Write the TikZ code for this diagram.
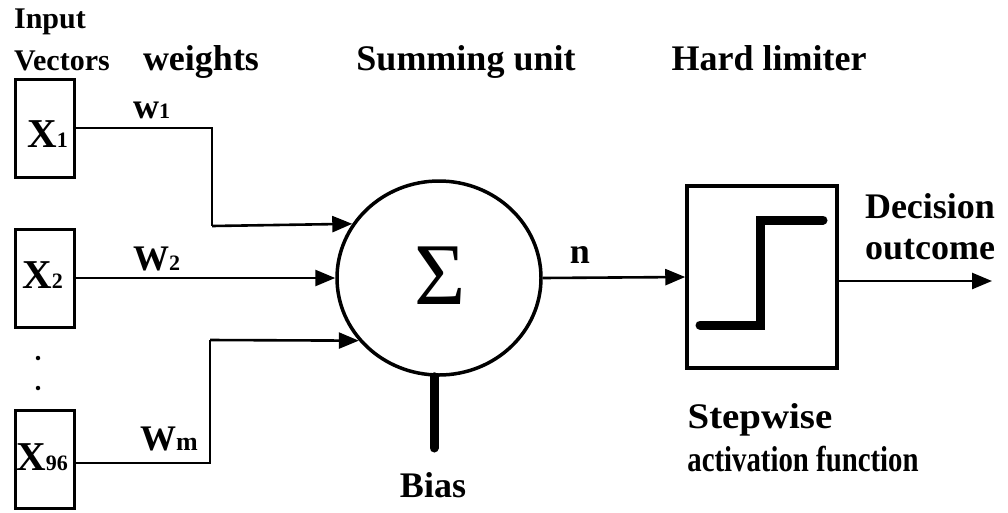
\documentclass[tikz,border=0pt]{standalone}
\usepackage{fontspec}
\setmainfont{Liberation Serif}
\usetikzlibrary{arrows.meta,shapes.geometric}
\newcommand\fsz[1]{\fontsize{#1}{#1}\selectfont}
\newcommand\sub[1]{{\fsz{22}#1}}
\begin{document}
\begin{tikzpicture}[x=1pt,y=-1pt,
  lbl/.style={font=\bfseries\fsz{36}, inner sep=0pt, anchor=base},
  small/.style={font=\bfseries\fsz{30}, inner sep=0pt, anchor=base},
  xlbl/.style={font=\bfseries\fsz{41}, inner sep=0pt, anchor=base west},
  inbox/.style={draw, line width=3pt, minimum width=59pt, minimum height=98pt, inner sep=0pt},
  wire/.style={line width=2.6pt},
  arr/.style={wire, -{Triangle[length=20pt,width=16pt]}},
  thick bar/.style={line width=9pt, line cap=round},
  dotmark/.style={circle, fill, inner sep=0pt, minimum size=4.5pt}
]
\useasboundingbox (0,0) rectangle (1008,512);

% headings
\node[small] (hin)  at (50,28)  {Input};
\node[small] (hvec) at (62,70)  {Vectors};
\node[lbl]   (hw)   at (201,70) {weights};
\node[lbl]   (hsum) at (466,70) {Summing unit};
\node[lbl]   (hlim) at (769,70) {Hard limiter};

% input boxes
\node[inbox] (x1)  at (44.5,128) {};
\node[inbox] (x2)  at (44.5,278) {};
\node[inbox] (xm)  at (44.5,459) {};
\node[xlbl] (tx1) at (27,147) {X\sub{1}};
\node[xlbl] (tx2) at (22,288) {X\sub{2}};
\node[xlbl] (txm) at (16,470) {X\sub{96}};
\node[dotmark] (d1) at (38,358) {};
\node[dotmark] (d2) at (38,388) {};

% summing unit
\node[ellipse, draw, line width=3.5pt, minimum width=204pt, minimum height=194pt,
      inner sep=0pt] (sum) at (439,278) {};
\node[font=\fsz{88}, inner sep=0pt] (sig) at (440,276) {Σ};

% weighted connections
\coordinate (b1) at (212,226);
\coordinate (b3) at (210,340);
\draw[wire] (x1.east) -| (b1);
\draw[arr] (b1) -- (sum.148.9);
\draw[arr] (x2.east) -- (sum.west);
\draw[wire] (xm.east |- 0,463) -| (b3);
\draw[arr] (b3) -- (sum.218.3);
\node[lbl, anchor=base west] (w1) at (133,118) {w\sub{1}};
\node[lbl, anchor=base west] (w2) at (133,270) {W\sub{2}};
\node[lbl, anchor=base west] (wm) at (140,450) {W{\fsz{26}m}};

% bias
\coordinate (bend) at (434,448);
\draw[thick bar] (bend |- sum.south) -- (bend);
\node[lbl] (bias) at (433,497) {Bias};

% hard limiter
\node[draw, line width=3.5pt, minimum width=150pt, minimum height=182pt,
      inner sep=0pt] (lim) at (762,277) {};
\draw[line width=9pt, line cap=round, line join=miter]
  (700,325) -- (760,325) -- (760,220) -- (823,220);
\draw[arr] (sum.east) -- (lim.west);
\node[lbl] (n) at (580,263) {n};

% output
\coordinate (out) at (992,281);
\draw[arr] (lim.east |- out) -- (out);
\node[lbl] (dec) at (930,218) {Decision};
\node[lbl] (outc) at (930,259) {outcome};

% activation caption
\node[lbl] (sw)  at (760,428) {\scalebox{1.08}[1]{Stepwise}};
\node[lbl] (act) at (803,471) {\scalebox{0.8}[1]{activation function}};
\end{tikzpicture}
\end{document}
